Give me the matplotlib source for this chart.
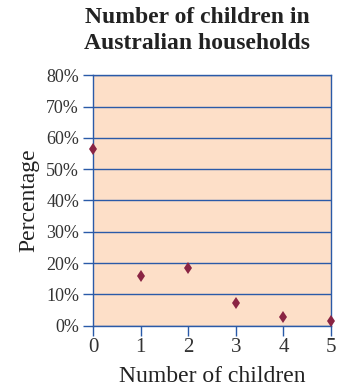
import matplotlib
matplotlib.use("Agg")
import matplotlib.pyplot as plt

children = [0, 1, 2, 3, 4, 5]
percent = [56.4, 16.0, 18.3, 7.3, 2.7, 1.4]
yticks = [0, 10, 20, 30, 40, 50, 60, 70, 80]
ytick_labels = ["0%", "10%", "20%", "30%", "40%", "50%", "60%", "70%", "80%"]

plt.rcParams['font.family'] = ['Liberation Serif', 'DejaVu Serif']

fig = plt.figure(figsize=(3.37, 3.89), dpi=100)
ax = fig.add_axes([93/337, 1-325.7/389, (331-93)/337, (325.7-75.3)/389])
ax.set_facecolor('#FDDFC8')
blue = '#2a5aa8'
for y in yticks:
    ax.axhline(y, color=blue, lw=1.0, zorder=1)
for s in ax.spines.values():
    s.set_color(blue)
    s.set_linewidth(1.0)
ax.plot(children, percent, linestyle='none', marker='d', markersize=6,
        markeredgewidth=0, color='#8a2443', zorder=3, clip_on=False)
ax.set_xlim(0, 5)
ax.set_ylim(0, 80)
ax.set_xticks(children)
ax.set_xticklabels([str(c) for c in children])
ax.set_yticks(yticks)
ax.set_yticklabels(ytick_labels)
ax.tick_params(axis='both', colors=blue, labelcolor='#333333', length=7, width=1.0, direction='out')
ax.tick_params(axis='x', pad=2, labelsize=15)
ax.tick_params(axis='y', pad=3, labelsize=13)
ax.set_xlabel("Number of children", fontsize=17, color='#222222', labelpad=6)
ax.set_ylabel("Percentage", fontsize=17, color='#222222', labelpad=5)
fig.text(0.585, 0.982, "Number of children in\nAustralian households", ha='center', va='top',
         fontsize=17, fontweight='bold', color='#222222', linespacing=1.3)
fig.savefig("out.png", dpi=100)
